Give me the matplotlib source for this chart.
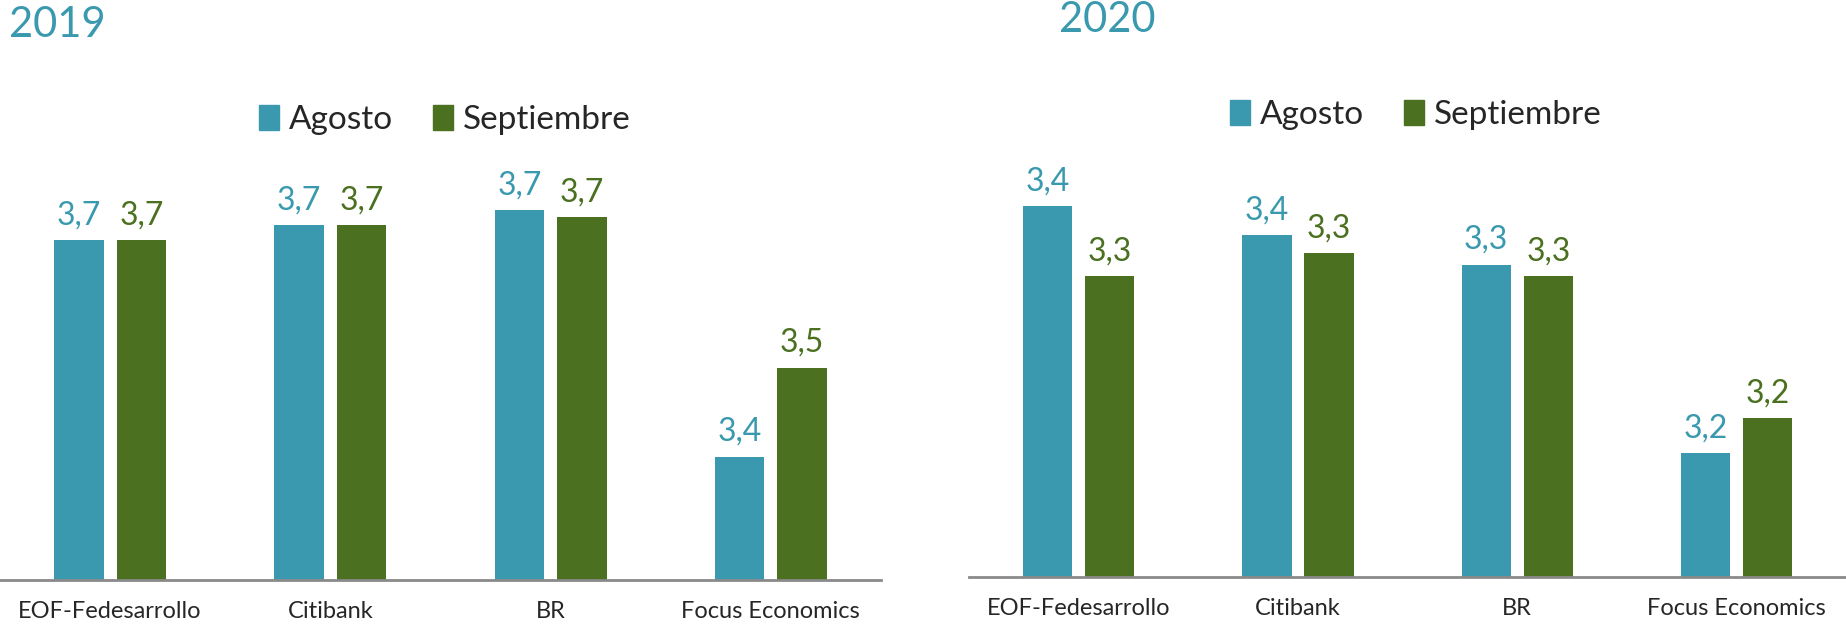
import numpy as np
import matplotlib
matplotlib.use("Agg")
import matplotlib.pyplot as plt
from matplotlib.patches import Patch

plt.rcParams['font.family'] = ['Lato', 'DejaVu Sans']

categories = ["EOF-Fedesarrollo", "Citibank", "BR", "Focus Economics"]
series = ["Agosto", "Septiembre"]
agosto_2019 = [3.671, 3.687, 3.704, 3.430]
sept_2019 = [3.671, 3.687, 3.696, 3.529]
agosto_2020 = [3.382, 3.360, 3.337, 3.192]
sept_2020 = [3.328, 3.346, 3.328, 3.219]
years = ["2019", "2020"]

teal = "#3A99AE"
green = "#4A7020"

fig = plt.figure(figsize=(18.46, 6.29), dpi=100)
ax1 = fig.add_axes([0.0, 0.0779, 0.4772, 0.6836])
ax2 = fig.add_axes([0.525, 0.0832, 0.475, 0.6784])

x = np.arange(len(categories))
w = 0.2246
off = 0.1417

def draw(ax, a, s, ylim, leg_xy):
    b1 = ax.bar(x - off, a, w, color=teal)
    b2 = ax.bar(x + off, s, w, color=green)
    ax.bar_label(b1, labels=[f"{v:.1f}".replace('.', ',') for v in a],
                 padding=7, color=teal, fontsize=23)
    ax.bar_label(b2, labels=[f"{v:.1f}".replace('.', ',') for v in s],
                 padding=7, color=green, fontsize=23)
    ax.set_ylim(*ylim)
    ax.set_xlim(-0.5, 3.5)
    ax.set_xticks(x)
    ax.set_xticklabels(categories, fontsize=17, color="#262626")
    ax.tick_params(axis='x', length=0, pad=15)
    ax.set_yticks([])
    for sp in ['top', 'right', 'left']:
        ax.spines[sp].set_visible(False)
    ax.spines['bottom'].set_color("#8a8a8a")
    ax.spines['bottom'].set_linewidth(2)
    handles = [Patch(color=teal, label=series[0]), Patch(color=green, label=series[1])]
    ax.legend(handles=handles, loc='center', bbox_to_anchor=leg_xy,
              bbox_transform=fig.transFigure, ncol=2, frameon=False,
              fontsize=24, handlelength=0.6, handleheight=0.75,
              handletextpad=0.3, columnspacing=1.2, labelcolor="#262626")

draw(ax1, agosto_2019, sept_2019, (3.293, 3.293 + 430 / 900), (0.2408, 0.809))
draw(ax2, agosto_2020, sept_2020, (3.097, 3.097 + 426.7 / 1300), (0.7668, 0.817))

fig.text(0.005, 0.96, years[0], color=teal, fontsize=30, va='center', ha='left')
fig.text(0.600, 0.998, years[1], color=teal, fontsize=30, va='top', ha='center')

fig.savefig("out.png", dpi=100)
